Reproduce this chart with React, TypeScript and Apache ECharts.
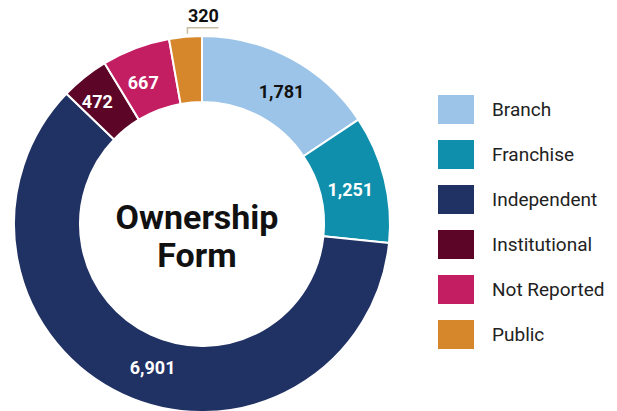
import React, { useEffect, useRef } from "react";
import * as echarts from "echarts";

const categories = ["Branch", "Franchise", "Independent", "Institutional", "Not Reported", "Public"];
const values = [1781, 1251, 6901, 472, 667, 320];
const colors = ["#9cc4e8", "#0f8fab", "#203163", "#5c0527", "#c41e62", "#d6862b"];
const labelColors = ["#111111", "#ffffff", "#ffffff", "#ffffff", "#ffffff", "#111111"];
const outsideLabel = [false, false, false, false, false, true];
const labelNudge = [[5, 7], [-5, 4], [17, 0], [-6, 1], [-3, 6], [0, 0]];
const centerTitle = "Ownership\nForm";

export default function App() {
  const ref = useRef<HTMLDivElement>(null);
  useEffect(() => {
    document.body.style.margin = "0";
    const chart = echarts.init(ref.current!, undefined, { renderer: "svg" });
    const data = categories.map((name, i) => ({
      name,
      value: values[i],
      itemStyle: { color: colors[i] },
      label: {
        position: outsideLabel[i] ? "outside" : "inside",
        color: labelColors[i],
        offset: labelNudge[i],
      },
      labelLine: { show: outsideLabel[i] },
    }));
    chart.setOption({
      animation: false,
      textStyle: { fontFamily: "Roboto" },
      legend: {
        orient: "vertical",
        left: 436,
        top: 93,
        itemWidth: 38,
        itemHeight: 31,
        itemGap: 12,
        padding: 0,
        icon: "rect",
        selectedMode: false,
        textStyle: {
          fontFamily: "Roboto",
          fontSize: 19,
          color: "#222222",
          padding: [0, 0, 0, 12],
        },
        data: categories,
      },
      graphic: [
        {
          type: "text",
          x: 197,
          y: 236,
          style: {
            text: centerTitle,
            fontFamily: "Roboto",
            fontWeight: "bold",
            fontSize: 34,
            lineHeight: 38,
            fill: "#111111",
            align: "center",
            verticalAlign: "middle",
          },
        },
      ],
      series: [
        {
          type: "pie",
          center: [202, 224],
          radius: [122, 188],
          startAngle: 90,
          clockwise: true,
          avoidLabelOverlap: false,
          itemStyle: { borderColor: "#ffffff", borderWidth: 2 },
          emphasis: { disabled: true },
          label: {
            show: true,
            fontFamily: "Roboto",
            fontWeight: "bold",
            fontSize: 18,
            formatter: (p: any) => Number(p.value).toLocaleString("en-US"),
          },
          labelLine: {
            lineStyle: { color: "#c9bc9f", width: 1.5 },
          },
          labelLayout: (params: any) => {
            if (!outsideLabel[params.dataIndex]) return {};
            const pts = params.labelLinePoints;
            if (!pts || !pts.length) return {};
            const s = pts[0];
            return {
              x: s[0] + 18,
              y: s[1] - 21,
              align: "center",
              verticalAlign: "middle",
              labelLinePoints: [
                [s[0] + 2, s[1] - 3],
                [s[0] + 2, s[1] - 9],
                [s[0] + 33, s[1] - 9],
              ],
            };
          },
          data,
        },
      ],
    });
    return () => chart.dispose();
  }, []);
  return <div ref={ref} style={{ width: 617, height: 411 }} />;
}
